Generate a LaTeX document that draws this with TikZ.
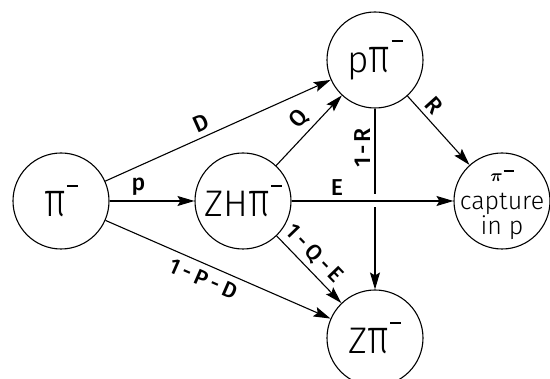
\documentclass[tikz,border=0pt]{standalone}
\usepackage{fontspec}
\usepackage{graphicx}
\usetikzlibrary{arrows.meta}
\newfontfamily\statefont{Fira Sans Light}
\newfontfamily\labelfont[LetterSpace=12]{Fira Sans Medium}
\newfontfamily\widelabelfont[LetterSpace=20]{Fira Sans Medium}
% tall upright pi with a raised minus sign, as used in the state circles
\newcommand{\pineg}{\scalebox{1}[1.3]{π}\kern1pt\rule[30pt]{11pt}{1.8pt}}
\begin{document}
\begin{tikzpicture}[x=1pt,y=-1pt,
    statenode/.style={circle, draw, line width=1.1pt, minimum size=96pt, inner sep=0pt,
      font=\statefont\fontsize{37}{40}\selectfont},
    flow/.style={line width=1.1pt, -{Stealth[length=17pt,width=10pt,inset=3pt]}},
    lab/.style={font=\labelfont\fontsize{23}{23}\selectfont, inner sep=0pt},
    widelab/.style={font=\widelabelfont\fontsize{22}{22}\selectfont, inner sep=0pt}]
  \useasboundingbox (0,0) rectangle (550,379);

  % states
  \node[statenode] (pim) at (61,201) {\pineg};
  \node[statenode] (zh)  at (243,201) {ZH\pineg};
  \node[statenode] (ppi) at (375,60)  {p\pineg};
  \node[statenode] (zpi) at (375,338) {Z\pineg};
  \node[statenode] (cap) at (502,201) {};
  \node[align=center, inner sep=0pt, font=\statefont\fontsize{25}{25}\selectfont] (captxt)
    at ([yshift=-4pt]cap.center)
    {{\boldmath\fontsize{18}{18}\selectfont$\pi$}\kern1pt\rule[10pt]{10pt}{1.7pt}\\[3pt]capture\\in p};

  % transitions
  \draw[flow] (pim) -- node[lab, pos=0.45, sloped, above=5pt] {D} (ppi);
  \draw[flow] (pim) -- node[lab, pos=0.34, above=5pt] {p} (zh);
  \draw[flow] (pim) -- node[widelab, pos=0.46, sloped, below=6pt] {1-P-D} (zpi);
  \draw[flow] (zh) -- node[lab, pos=0.52, sloped, above=5pt] {Q} (ppi);
  \draw[flow] (zh) -- node[widelab, pos=0.42, sloped, above=5pt] {1-Q-E} (zpi);
  \draw[flow] (ppi) -- node[lab, pos=0.26, sloped, above=5pt] {R} (cap);
  \draw[flow] (ppi) -- node[lab, pos=0.22, rotate=90, anchor=south, inner sep=4pt] {1-R} (zpi);

  % break in the vertical line where the E transition crosses it
  \node[fill=white, minimum width=4pt, minimum height=13pt, inner sep=0pt] (gap) at (ppi |- cap) {};
  \draw[flow] (zh) -- node[lab, pos=0.28, above=5pt] {E} (cap);
\end{tikzpicture}
\end{document}
